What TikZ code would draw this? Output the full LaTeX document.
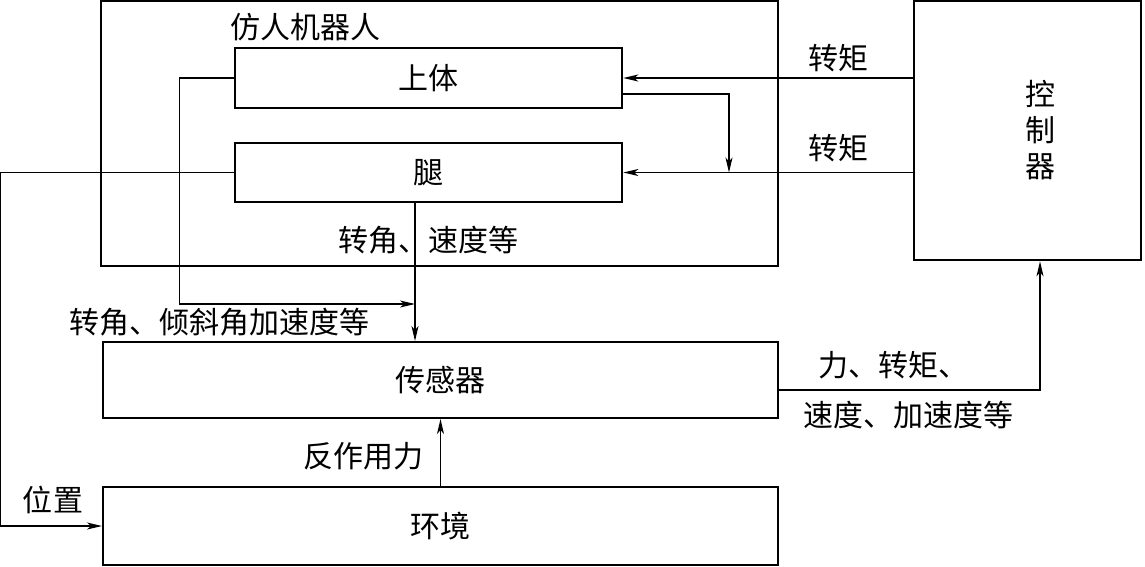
\documentclass[tikz,border=0pt]{standalone}
\usepackage{fontspec}
\setmainfont{Noto Sans CJK SC}
\usetikzlibrary{arrows.meta}
\begin{document}
\begin{tikzpicture}[x=1pt,y=-1pt,
  box/.style={draw,line width=2.6pt,rectangle,inner sep=0pt},
  frame/.style={draw,line width=2pt,rectangle,inner sep=0pt},
  arr/.style={line width=1.4pt,-{Stealth[length=15pt,width=7pt,inset=4pt]}},
  lbl/.style={font=\fontsize{30}{36}\selectfont,inner sep=0pt}]
\useasboundingbox (0,0) rectangle (1145,566);
% boxes
\node[frame,minimum width=677pt,minimum height=265pt] (robot) at (439.5,133.5) {};
\node[lbl] (robotlbl) at (305,27) {仿人机器人};
\node[box,minimum width=387pt,minimum height=60pt,lbl] (upper) at (428.5,78) {上体};
\node[box,minimum width=387pt,minimum height=59pt,lbl] (leg) at (428.5,172.5) {腿};
\node[box,minimum width=227pt,minimum height=259pt] (ctrl) at (1027.5,130.5) {};
\node[lbl,align=center] (ctrllbl) at (1040,130.5) {控\\制\\器};
\node[frame,minimum width=675pt,minimum height=76pt,lbl] (sensor) at (440.5,380) {传感器};
\node[frame,minimum width=675pt,minimum height=78pt,lbl] (env) at (440.5,526) {环境};
% connectors
\draw[arr] (ctrl.west |- upper.east) -- (upper.east);
\draw[arr] (ctrl.west |- leg.east) -- (leg.east);
\coordinate (jn) at (729,172.5);
\draw[arr] ([yshift=-16pt]upper.east) -| (jn);
\coordinate (s1) at (415,304);
\draw[arr] (upper.west) -- ++(-54,0) |- (s1);
\draw[arr] ([xshift=-13.5pt]leg.south) -- ([xshift=-13.5pt]leg.south |- sensor.north);
\draw[arr] ([yshift=-10pt]sensor.east) -| ([xshift=12.5pt]ctrl.south);
\draw[arr] (env.north) -- (sensor.south);
\draw[arr] (leg.west) -- ++(-233,0) |- (env.west);
% labels
\node[lbl] (t1) at (838,58) {转矩};
\node[lbl] (t2) at (838,148) {转矩};
\node[lbl] (l1) at (428,240) {转角、速度等};
\node[lbl] (l2) at (219,322) {转角、倾斜角加速度等};
\node[lbl] (l3) at (893,365) {力、转矩、};
\node[lbl] (l4) at (908,415) {速度、加速度等};
\node[lbl] (l5) at (363,456) {反作用力};
\node[lbl] (l6) at (53,500) {位置};
\end{tikzpicture}
\end{document}
